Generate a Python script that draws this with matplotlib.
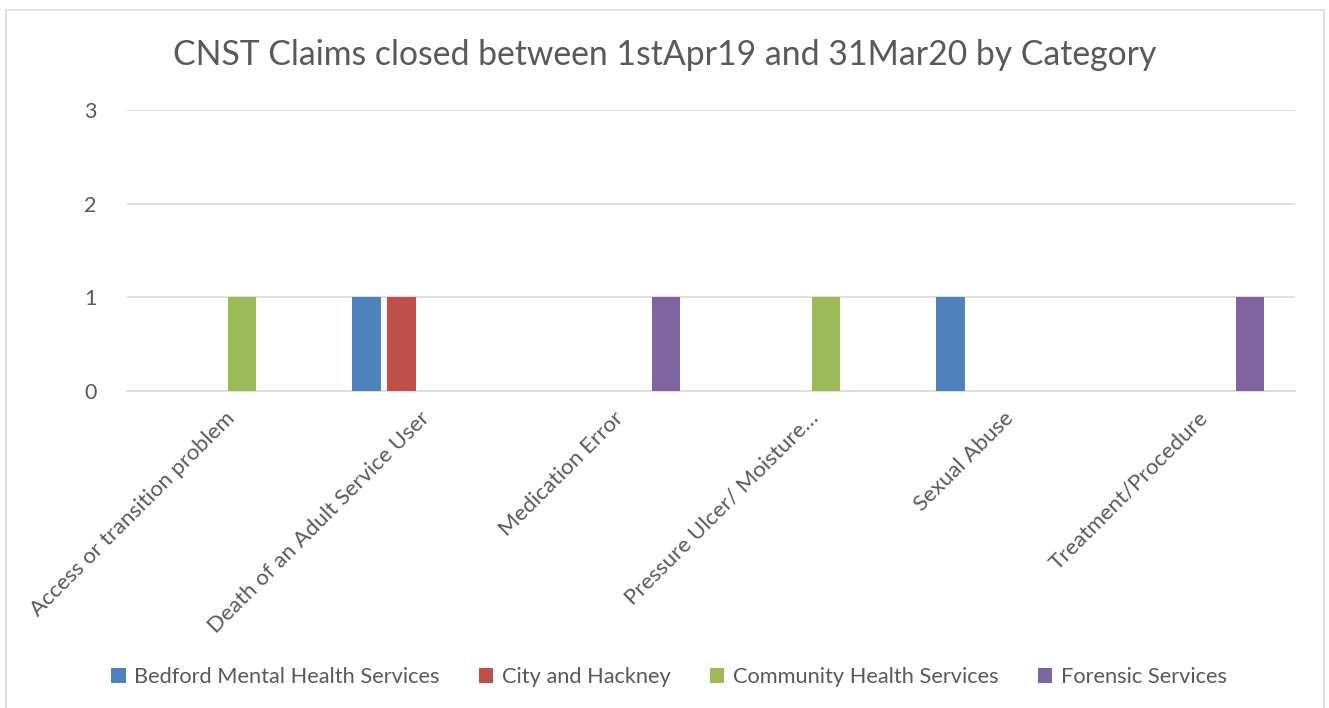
import matplotlib.pyplot as plt
from matplotlib.patches import Rectangle
import numpy as np

plt.rcParams['font.family'] = ['Lato', 'DejaVu Sans']

categories = ["Access or transition problem", "Death of an Adult Service User",
              "Medication Error", "Pressure Ulcer/ Moisture\u2026",
              "Sexual Abuse", "Treatment/Procedure"]
series = ["Bedford Mental Health Services", "City and Hackney",
          "Community Health Services", "Forensic Services"]
bedford = [0, 1, 0, 0, 1, 0]
hackney = [0, 1, 0, 0, 0, 0]
community = [1, 0, 0, 1, 0, 0]
forensic = [0, 0, 1, 0, 0, 1]
colors = ["#4f81bd", "#c0504d", "#9bbb59", "#8064a2"]

W, H = 1329, 708
fig = plt.figure(figsize=(W / 100, H / 100), dpi=100)
fig.patches.append(Rectangle((6 / W, -0.05), (1324 - 6) / W, 1 - 10 / H + 0.05,
                             transform=fig.transFigure, fill=False,
                             edgecolor="#d9d9d9", lw=1.2))

ax = fig.add_axes([127 / W, 1 - 391 / H, (1295 - 127) / W, (391 - 110) / H])
x = np.arange(len(categories))
step = 0.18
width = 0.145
for i, (vals, name) in enumerate(zip([bedford, hackney, community, forensic], series)):
    ax.bar(x + (i - 1.5) * step, vals, width, color=colors[i], label=name, zorder=3)

ax.set_xlim(-0.5, len(categories) - 0.5)
ax.set_ylim(0, 3)
ax.set_yticks([0, 1, 2, 3])
ax.grid(axis="y", color="#d9d9d9", lw=1.2, zorder=0)
for s in ["top", "right", "left"]:
    ax.spines[s].set_visible(False)
ax.spines["bottom"].set_color("#d9d9d9")
ax.spines["bottom"].set_linewidth(1.2)
ax.tick_params(axis="both", length=0, colors="#595959", labelsize=15.5)
ax.tick_params(axis="y", pad=22)
ax.tick_params(axis="x", pad=12)
ax.set_xticks(x)
ax.set_xticklabels(categories, rotation=45, ha="right", va="top",
                   rotation_mode="anchor", fontsize=16)

fig.text(665 / W, 1 - 55 / H, "CNST Claims closed between 1stApr19 and 31Mar20 by Category",
         ha="center", va="center", fontsize=24.3, color="#595959")

fig.legend(loc="center", bbox_to_anchor=(669 / W, 1 - 677 / H), ncol=4,
           frameon=False, fontsize=15.7, handlelength=0.65, handleheight=0.65,
           handletextpad=0.4, columnspacing=1.8, labelcolor="#595959")

fig.savefig("out.png", dpi=100)
